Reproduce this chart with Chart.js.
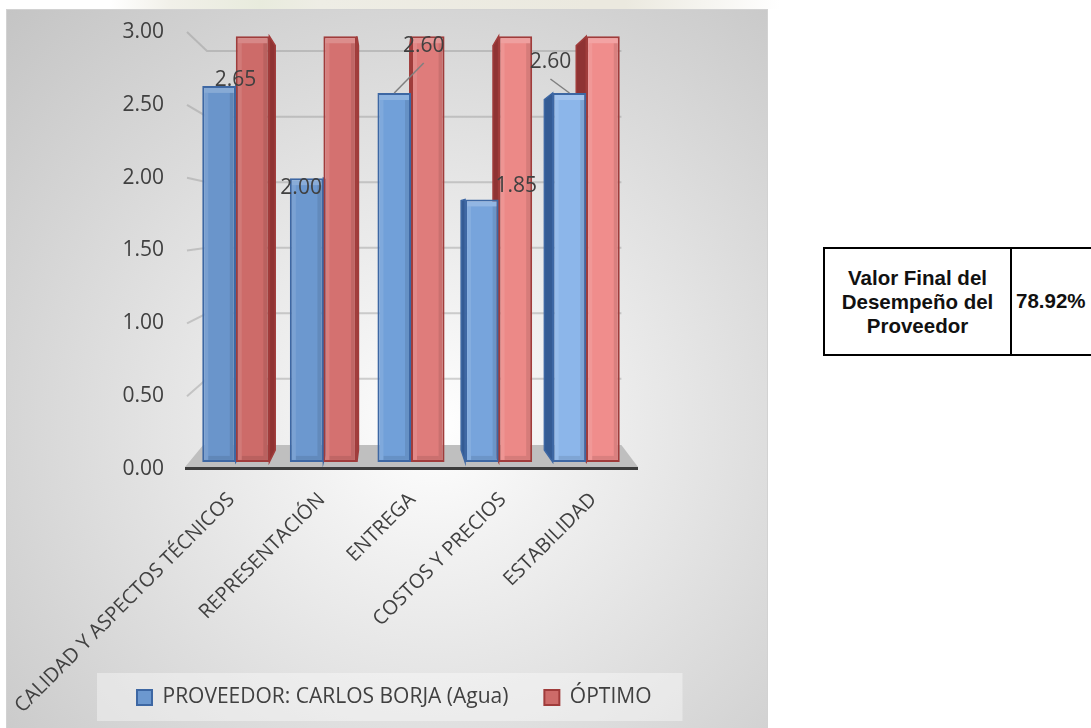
<!DOCTYPE html>
<html lang="es">
<head>
<meta charset="utf-8">
<title>Desempeño del Proveedor</title>
<script src="https://cdn.jsdelivr.net/npm/chart.js@4.4.1/dist/chart.umd.min.js"></script>
<style>
  html, body { margin: 0; padding: 0; background: #fff; width: 1091px; height: 728px; overflow: hidden; }
  #wm {
    position: absolute; left: 110px; top: 0; width: 680px; height: 9px;
    background: linear-gradient(90deg, rgba(240,238,228,0) 0px, #f1f0e9 60px, #e8ebdd 150px, #eeede5 210px,
                #ebe9df 480px, #ebe9df 515px, rgba(235,233,223,0) 670px);
  }
  #panel {
    position: absolute; left: 6px; top: 9px; width: 762px; height: 742px;
    background: radial-gradient(ellipse farthest-corner at 56% 56%, #ffffff 0%, #f1f1f1 22%, #dedede 55%, #c4c4c4 100%);
    box-shadow: inset 0 0 0 1px #d2d2d2;
  }
  #panel canvas { position: absolute; left: 0; top: 0; }
  #score {
    position: absolute; left: 823px; top: 247px; width: 320px; height: 109px;
    box-sizing: border-box; border: 2px solid #000; display: flex;
    font-family: "Liberation Sans", Arial, sans-serif; font-weight: bold; font-size: 20.5px; color: #111;
  }
  #score .name {
    width: 187px; box-sizing: border-box; border-right: 2px solid #000;
    display: flex; align-items: center; justify-content: center; text-align: center; line-height: 24px;
  }
  #score .val { display: flex; align-items: center; padding-left: 4px; padding-bottom: 2px; }
</style>
</head>
<body>
<div id="wm"></div>
<div id="panel"><canvas id="chart" width="762" height="742"></canvas></div>
<div id="score">
  <div class="name">Valor Final del<br>Desempeño del<br>Proveedor</div>
  <div class="val" id="scoreValue"></div>
</div>
<script>
// ---- data ----
const categories = ['CALIDAD Y ASPECTOS TÉCNICOS', 'REPRESENTACIÓN', 'ENTREGA', 'COSTOS Y PRECIOS', 'ESTABILIDAD'];
const proveedor = [2.65, 2.00, 2.60, 1.85, 2.60];
const optimo = [3.00, 3.00, 3.00, 3.00, 3.00];
const valueTicks = [0, 0.5, 1, 1.5, 2, 2.5, 3];
const seriesNames = ['PROVEEDOR: CARLOS BORJA (Agua)', 'ÓPTIMO'];
const finalScore = '78.92%';

// ---- styling ----
const FONT = "'Open Sans', 'DejaVu Sans', sans-serif";
const INK = '#404040';
const blueFill = ['#6a95cb', '#6c98cf', '#71a0d9', '#77a4dc', '#8cb6ea'];
const redFill = ['#cd6b69', '#d47170', '#df7c7b', '#ec8987', '#f08d8c'];
const seriesBorder = ['#3d67a3', '#a03c3b'];
const seriesSide = ['#345b94', '#8f3333'];
// value label placement relative to the top centre of the supplier bar
const labelOffsets = [[16.5, -6], [-5.5, 10], [29.5, -47], [34.5, -13], [-19, -31]];
const labelLeaders = [false, false, true, false, true];
// perspective depth factors (fraction of the way toward the vanishing point)
const depth = { wall: 0.1, floor: 0.09, bar: 0.05 };

document.getElementById('scoreValue').textContent = finalScore;

function vanishing(chart) {
  const a = chart.chartArea;
  return { x: a.left + 0.445 * (a.right - a.left), y: chart.scales.yt.getPixelForValue(1.69) };
}

function poly(ctx, pts) {
  ctx.beginPath();
  ctx.moveTo(pts[0][0], pts[0][1]);
  for (let i = 1; i < pts.length; i++) ctx.lineTo(pts[i][0], pts[i][1]);
  ctx.closePath();
}

// keep the axes from reserving extra room for overhanging labels
function noOverhang(s) {
  s.paddingLeft = 0; s.paddingRight = 0; s.paddingTop = 0; s.paddingBottom = 0;
}

const scene3d = {
  id: 'scene3d',
  beforeDraw(chart) {
    // soft backdrop behind the legend
    const hb = chart.legend && chart.legend.legendHitBoxes;
    if (!hb || !hb.length) return;
    const ctx = chart.ctx, first = hb[0], last = hb[hb.length - 1];
    ctx.save();
    ctx.fillStyle = 'rgba(255,255,255,0.38)';
    ctx.fillRect(first.left - 40, first.top - 14, last.left + last.width + 31 - (first.left - 40), first.height + 27);
    ctx.restore();
  },
  beforeDatasetsDraw(chart) {
    const ctx = chart.ctx, a = chart.chartArea, yt = chart.scales.yt, vp = vanishing(chart);
    const toward = (x, y, k) => [x + k * (vp.x - x), y + k * (vp.y - y)];
    ctx.save();

    // back wall and side wall gridlines
    const wallX = a.left - 5;
    const floorL = a.left - 7, floorR = a.right + 8;
    const backRight = toward(floorR, 0, depth.floor)[0] + 6;
    ctx.strokeStyle = 'rgba(140,140,140,0.38)';
    ctx.lineWidth = 2;
    yt.ticks.forEach(t => {
      if (t.value === 0) return;
      const fy = yt.getPixelForValue(t.value);
      const [bx, by] = toward(wallX, fy, depth.wall);
      ctx.beginPath();
      ctx.moveTo(wallX, fy);
      ctx.lineTo(bx, by);
      ctx.lineTo(backRight, by);
      ctx.stroke();
    });

    // floor
    const f0 = yt.getPixelForValue(0) - 2;
    const bl = toward(floorL, f0, depth.floor), br = toward(floorR, f0, depth.floor);
    ctx.fillStyle = '#bfbfbf';
    poly(ctx, [[floorL, f0], bl, [br[0] + 6, br[1]], [floorR, f0]]);
    ctx.fill();
    ctx.fillStyle = '#3c3c3c';
    ctx.fillRect(floorL, f0, floorR - floorL, 3);

    // side faces of the bars
    chart.data.datasets.forEach((ds, di) => {
      chart.getDatasetMeta(di).data.forEach(el => {
        const { x, y, base, width } = el.getProps(['x', 'y', 'base', 'width'], true);
        const xl = x - width / 2, xr = x + width / 2;
        let edge;
        if (xr < vp.x) edge = xr; else if (xl > vp.x) edge = xl; else return;
        const t = toward(edge, y, depth.bar), b = toward(edge, base, depth.bar);
        ctx.fillStyle = seriesSide[di];
        ctx.strokeStyle = seriesBorder[di];
        ctx.lineWidth = 1.5;
        poly(ctx, [[edge, y], t, b, [edge, base]]);
        ctx.fill();
        ctx.stroke();
      });
    });
    ctx.restore();
  },
  afterDatasetsDraw(chart) {
    const ctx = chart.ctx;
    ctx.save();
    // bevelled front faces
    chart.data.datasets.forEach((ds, di) => {
      chart.getDatasetMeta(di).data.forEach(el => {
        const { x, y, base, width } = el.getProps(['x', 'y', 'base', 'width'], true);
        const xl = x - width / 2, xr = x + width / 2, h = base - y;
        ctx.fillStyle = 'rgba(255,255,255,0.20)';
        ctx.fillRect(xl + 2, y + 2, width - 4, 5);
        ctx.fillStyle = 'rgba(255,255,255,0.10)';
        ctx.fillRect(xl + 2, y + 7, 4, h - 9);
        ctx.fillStyle = 'rgba(0,0,0,0.09)';
        ctx.fillRect(xr - 6, y + 7, 4, h - 9);
        ctx.fillRect(xl + 6, base - 6, width - 12, 4);
      });
    });

    // value labels of the supplier series
    const meta = chart.getDatasetMeta(0);
    ctx.font = '21px ' + FONT;
    ctx.fillStyle = INK;
    ctx.textAlign = 'center';
    ctx.textBaseline = 'middle';
    meta.data.forEach((el, i) => {
      const { x, y } = el.getProps(['x', 'y'], true);
      const lx = x + labelOffsets[i][0], ly = y + labelOffsets[i][1];
      if (labelLeaders[i]) {
        ctx.strokeStyle = '#7f7f7f';
        ctx.lineWidth = 1.5;
        ctx.beginPath();
        ctx.moveTo(lx, ly + 17);
        ctx.lineTo(x, y);
        ctx.stroke();
      }
      ctx.fillText(chart.data.datasets[0].data[i].toFixed(2), lx, ly);
    });
    ctx.restore();
  }
};

Chart.defaults.font.family = FONT;
Chart.defaults.color = INK;

new Chart(document.getElementById('chart'), {
  type: 'bar',
  data: {
    labels: categories,
    datasets: [
      { label: seriesNames[0], data: proveedor, backgroundColor: blueFill, borderColor: seriesBorder[0],
        borderWidth: 2, borderSkipped: false, xAxisID: 'x', yAxisID: 'y' },
      { label: seriesNames[1], data: optimo, backgroundColor: redFill, borderColor: seriesBorder[1],
        borderWidth: 2, borderSkipped: false, xAxisID: 'x', yAxisID: 'y' }
    ]
  },
  options: {
    responsive: false,
    animation: false,
    devicePixelRatio: 1,
    events: [],
    layout: { padding: { left: 95, right: 8, top: 23, bottom: 33 } },
    datasets: { bar: { categoryPercentage: 0.766, barPercentage: 1.0 } },
    scales: {
      x: { type: 'category', display: false },
      xl: {
        type: 'linear', position: 'bottom', min: -0.436, max: 4.403, offset: false,
        grid: { display: false, drawTicks: false, offset: false }, border: { display: false },
        afterBuildTicks: s => { s.ticks = categories.map((c, i) => ({ value: i })); },
        afterFit: s => {
          s.height = 182;
          noOverhang(s);
          // long rotated names run down past the axis box; let them draw in full
          s._computeLabelArea = () => undefined;
        },
        ticks: {
          autoSkip: false, minRotation: 45, maxRotation: 45, padding: 19,
          font: { size: 20, family: FONT }, color: INK,
          callback: v => categories[v]
        }
      },
      yt: {
        type: 'linear', position: 'left', min: 0, max: 3,
        grid: { display: false, drawTicks: false }, border: { display: false },
        afterBuildTicks: s => { s.ticks = valueTicks.map(v => ({ value: v })); },
        afterFit: s => { s.width = 91; noOverhang(s); },
        ticks: { padding: 28, font: { size: 21, family: FONT }, color: INK, callback: v => Number(v).toFixed(2) }
      },
      y: {
        type: 'linear', position: 'right', min: -0.05, max: 3.03,
        grid: { display: false, drawTicks: false }, border: { display: false },
        ticks: { display: false },
        afterFit: s => { s.width = 130; noOverhang(s); }
      }
    },
    plugins: {
      tooltip: { enabled: false },
      legend: {
        position: 'bottom', align: 'start',
        labels: {
          boxWidth: 15, boxHeight: 15, padding: 36, color: INK,
          font: { size: 21, family: FONT },
          generateLabels: () => seriesNames.map((name, i) => ({
            text: name,
            fillStyle: i === 0 ? blueFill[1] : redFill[0],
            strokeStyle: seriesBorder[i],
            lineWidth: 2,
            fontColor: INK,
            datasetIndex: i,
            hidden: false
          }))
        }
      }
    }
  },
  plugins: [scene3d]
});
</script>
</body>
</html>
